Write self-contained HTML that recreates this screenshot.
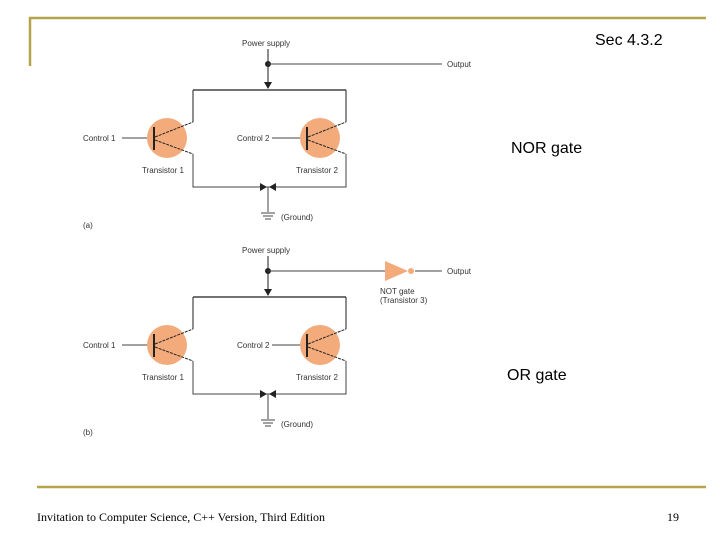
<!DOCTYPE html>
<html><head><meta charset="utf-8"><style>
body{margin:0;width:720px;height:540px;background:#fff;overflow:hidden;position:relative;font-family:"Liberation Sans",sans-serif}
svg{position:absolute;left:0;top:0}
</style></head><body>
<svg width="720" height="540" viewBox="0 0 720 540">
<g stroke="#b5a548" stroke-width="2.5" fill="none">
<path d="M30 66 V18 H706"/>
<path d="M37 487 H706"/>
</g>
<text x="595" y="45" font-size="16" fill="#000">Sec 4.3.2</text>
<text x="511" y="153" font-size="16" fill="#000">NOR gate</text>
<text x="507" y="380" font-size="16" fill="#000">OR gate</text>
<text x="37" y="521" font-size="12" font-family="Liberation Serif,serif" fill="#000">Invitation to Computer Science, C++ Version, Third Edition</text>
<text x="667" y="521" font-size="12" font-family="Liberation Serif,serif" fill="#000">19</text>

<defs>
<g id="circ">
<g stroke="#444" stroke-width="1" fill="none">
<path d="M268 49 V88" stroke-width="1.2"/>
<path d="M193 90 H346" stroke-width="1.5"/>
<path d="M193 90 V122 M346 90 V122" stroke-width="1.2"/>
<path d="M122 138 H154 M272 138 H306"/>
<path d="M193 154 V187 H346 V154"/>
<path d="M268 187 V212"/>
<path d="M261 213 H275 M263 216 H273 M265 219 H271"/>
</g>
<circle cx="268" cy="64" r="3" fill="#222"/>
<path d="M264 82 L272 82 L268 89 Z" fill="#222"/>
<path d="M260 183 L267 187 L260 191 Z M276 183 L269 187 L276 191 Z" fill="#222"/>
<circle cx="167" cy="138" r="20" fill="#f4ab7c"/>
<circle cx="320" cy="138" r="20" fill="#f4ab7c"/>
<g stroke="#222" fill="none">
<path d="M154 127 V150 M307 127 V150" stroke-width="2"/>
<path d="M155 137 L193 122 M155 140 L193 154 M308 137 L346 122 M308 140 L346 154" stroke-width="1" stroke-dasharray="3,1"/>
</g>
<g font-size="8" fill="#333">
<text x="242" y="46">Power supply</text>
<text x="83" y="141">Control 1</text>
<text x="237" y="141">Control 2</text>
<text x="142" y="173">Transistor 1</text>
<text x="296" y="173">Transistor 2</text>
<text x="281" y="220">(Ground)</text>
</g>
</g>
</defs>
<use href="#circ" x="0" y="0"/>
<use href="#circ" x="0" y="207"/>
<g stroke="#444" fill="none">
<path d="M268 64 H442"/>
<path d="M268 271 H385 M415 271 H442"/>
</g>
<path d="M385 261 L408 271 L385 281 Z" fill="#f4ab7c"/>
<circle cx="411" cy="271" r="3" fill="#f4ab7c"/>
<g font-size="8" fill="#333">
<text x="447" y="67">Output</text>
<text x="447" y="274">Output</text>
<text x="380" y="294">NOT gate</text>
<text x="380" y="303">(Transistor 3)</text>
<text x="83" y="228">(a)</text>
<text x="83" y="435">(b)</text>
</g>
</svg>
</body></html>
